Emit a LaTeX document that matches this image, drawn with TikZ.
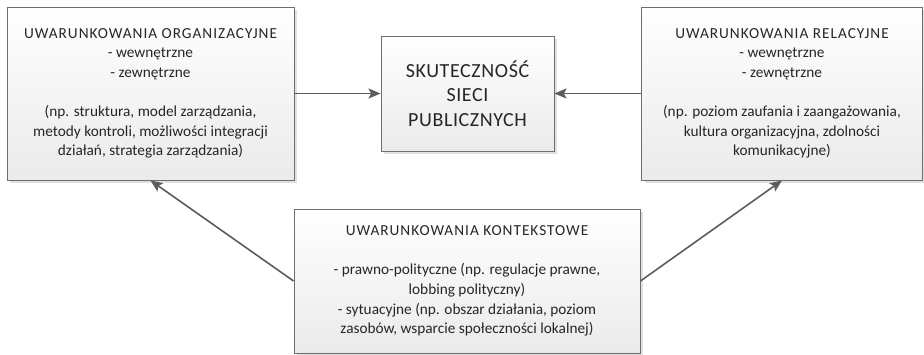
\documentclass[tikz,border=0pt]{standalone}
\usepackage{fontspec}
\setmainfont{Carlito}
\newfontfamily\titlefont[LetterSpace=6.5]{Carlito}
\newfontfamily\headfont[LetterSpace=3]{Carlito}
\usetikzlibrary{arrows.meta,shadows}
\definecolor{boxline}{HTML}{6E6E6E}
\definecolor{arrowc}{HTML}{5C5C5C}
\definecolor{txt}{HTML}{262626}
\tikzset{
  box/.style={draw=boxline, line width=0.9pt, rectangle, align=center,
    top color=white, bottom color=black!8, text=txt,
    font=\fontsize{15.3}{19.6}\selectfont, inner sep=0pt,
    drop shadow={shadow xshift=3pt, shadow yshift=-3pt, fill=black!12, opacity=1}},
  link/.style={draw=arrowc, line width=1.6pt,
    -{Stealth[length=12pt, width=10pt, inset=2.5pt]}}
}
\begin{document}
\begin{tikzpicture}[x=1pt, y=-1pt]
\useasboundingbox (0,0) rectangle (924,354);

\node[box, minimum width=287pt, minimum height=173pt] (org) at (150.5,93.5)
  {{\titlefont UWARUNKOWANIA ORGANIZACYJNE}\\- wewnętrzne\\- zewnętrzne\\[19.6pt]
   (np. struktura, model zarządzania,\\metody kontroli, możliwości integracji\\działań, strategia zarządzania)};

\node[box, minimum width=281pt, minimum height=173pt] (rel) at (782,93.5)
  {{\titlefont UWARUNKOWANIA RELACYJNE}\\- wewnętrzne\\- zewnętrzne\\[19.6pt]
   (np. poziom zaufania i zaangażowania,\\kultura organizacyjna, zdolności\\komunikacyjne)};

\node[box, minimum width=173pt, minimum height=115pt,
      font=\fontsize{20}{24.5}\selectfont\headfont] (sku) at (467.5,93.5)
  {SKUTECZNOŚĆ\\SIECI\\PUBLICZNYCH};

\node[box, minimum width=346pt, minimum height=144pt] (kon) at (467,281)
  {{\titlefont UWARUNKOWANIA KONTEKSTOWE}\\[19.6pt]
   - prawno-polityczne (np. regulacje prawne,\\lobbing polityczny)\\
   - sytuacyjne (np. obszar działania, poziom\\zasobów, wsparcie społeczności lokalnej)};

\draw[link] (org.east) -- (sku.west);
\draw[link] (rel.west) -- (sku.east);
\draw[link] (kon.west) -- (org.south);
\draw[link] (kon.east) -- (rel.south);
\end{tikzpicture}
\end{document}
